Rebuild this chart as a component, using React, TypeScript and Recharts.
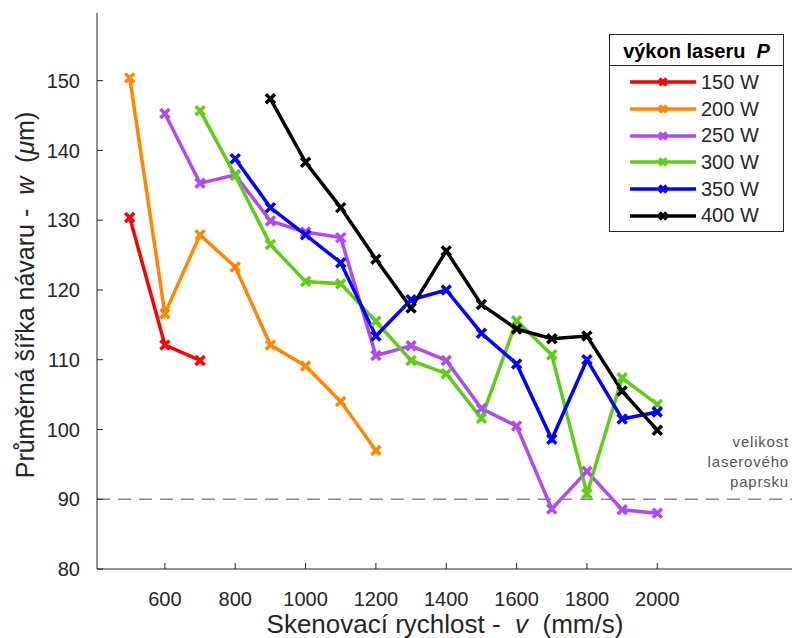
import React from 'react';
import {
  LineChart,
  Line,
  XAxis,
  YAxis,
  Legend,
  ReferenceLine
} from 'recharts';

const FONT = "'Liberation Sans', Arial, Helvetica, sans-serif";
const AXIS_COLOR = '#262626';
const PLOT_LEFT = 97;
const PLOT_BOTTOM = 569;
const TICK_LEN = 6;

// scan speed v (mm/s)
const speeds = [500, 600, 700, 800, 900, 1000, 1100, 1200, 1300, 1400, 1500, 1600, 1700, 1800, 1900, 2000];

// mean track width w (µm) per laser power, null = not measured
const w150 = [130.4, 112.1, 109.9, null, null, null, null, null, null, null, null, null, null, null, null, null];
const w200 = [150.4, 116.6, 127.9, 123.3, 112.1, 109.1, 104, 97, null, null, null, null, null, null, null, null];
const w250 = [null, 145.3, 135.3, 136.5, 129.9, 128.3, 127.5, 110.6, 112, 109.9, 103, 100.5, 88.6, 94, 88.5, 88];
const w300 = [null, null, 145.7, 136.4, 126.5, 121.2, 120.9, 115.5, 109.9, 108, 101.6, 115.6, 110.7, 90.8, 107.4, 103.6];
const w350 = [null, null, null, 138.8, 131.8, 127.9, 123.9, 113.4, 118.6, 120, 113.8, 109.4, 98.6, 110, 101.5, 102.5];
const w400 = [null, null, null, null, 147.4, 138.3, 131.8, 124.4, 117.4, 125.6, 117.9, 114.4, 113, 113.4, 105.5, 99.9];

const xTicks = [600, 800, 1000, 1200, 1400, 1600, 1800, 2000];
const yTicks = [80, 90, 100, 110, 120, 130, 140, 150];
const beamSize = 90;

const series = [
  { key: 'p150', name: '150 W', color: '#FF0000', values: w150 },
  { key: 'p200', name: '200 W', color: '#FF8800', values: w200 },
  { key: 'p250', name: '250 W', color: '#B14AF5', values: w250 },
  { key: 'p300', name: '300 W', color: '#5FCC16', values: w300 },
  { key: 'p350', name: '350 W', color: '#0000FF', values: w350 },
  { key: 'p400', name: '400 W', color: '#000000', values: w400 }
];

const data = speeds.map((v, i) => {
  const row: Record<string, number | null> = { v };
  series.forEach((s) => {
    row[s.key] = s.values[i];
  });
  return row;
});

const crossPath = (cx: number, cy: number, r: number) =>
  `M${cx - r},${cy - r}L${cx + r},${cy + r}M${cx - r},${cy + r}L${cx + r},${cy - r}`;

const CrossDot = (props: any) => {
  const { cx, cy, stroke, index, dataKey, value } = props;
  const k = `${dataKey}-${index}`;
  if (cx == null || cy == null || value == null) return <g key={k} />;
  return <path key={k} d={crossPath(cx, cy, 4.5)} stroke={stroke} strokeWidth={3.5} fill="none" />;
};

// ticks point inwards (MATLAB style), so the tick mark is drawn here
const XTick = (props: any) => {
  const { x, payload } = props;
  return (
    <g>
      <line x1={x} y1={PLOT_BOTTOM} x2={x} y2={PLOT_BOTTOM - TICK_LEN} stroke={AXIS_COLOR} />
      <text x={x} y={606} textAnchor="middle" fill={AXIS_COLOR} fontSize={20} fontFamily={FONT}>
        {payload.value}
      </text>
    </g>
  );
};

const YTick = (props: any) => {
  const { y, payload } = props;
  return (
    <g>
      <line x1={PLOT_LEFT} y1={y} x2={PLOT_LEFT + TICK_LEN} y2={y} stroke={AXIS_COLOR} />
      <text x={80} y={y} dy="0.36em" textAnchor="end" fill={AXIS_COLOR} fontSize={20} fontFamily={FONT}>
        {payload.value}
      </text>
    </g>
  );
};

const PowerLegend = () => (
  <div
    style={{
      width: 175,
      height: 198,
      boxSizing: 'border-box',
      border: `1px solid ${AXIS_COLOR}`,
      background: '#fff',
      fontFamily: FONT,
      color: '#000'
    }}
  >
    <div
      style={{
        height: 30,
        borderBottom: `1px solid ${AXIS_COLOR}`,
        textAlign: 'center',
        fontWeight: 'bold',
        fontSize: 20,
        lineHeight: '32px',
        whiteSpace: 'pre'
      }}
    >
      {'výkon laseru  '}
      <i>P</i>
    </div>
    <div style={{ paddingTop: 3 }}>
      {series.map((s) => (
        <div key={s.key} style={{ height: 26.7, display: 'flex', alignItems: 'center' }}>
          <svg width={66} height={20} style={{ marginLeft: 20, display: 'block' }}>
            <line x1={0} y1={10} x2={66} y2={10} stroke={s.color} strokeWidth={3.5} />
            <path d={crossPath(33, 10, 3.5)} stroke={s.color} strokeWidth={3.5} fill="none" />
          </svg>
          <span style={{ fontSize: 20, marginLeft: 5, color: '#262626' }}>{s.name}</span>
        </div>
      ))}
    </div>
  </div>
);

export default function App() {
  return (
    <div style={{ position: 'absolute', left: 0, top: 0, background: '#fff' }}>
      <LineChart
        width={792}
        height={638}
        data={data}
        margin={{ top: 13, right: 0, bottom: 0, left: 0 }}
      >
        <XAxis
          dataKey="v"
          type="number"
          domain={[407, 2383]}
          ticks={xTicks}
          allowDataOverflow
          height={69}
          stroke={AXIS_COLOR}
          tickLine={false}
          tick={<XTick />}
          label={{
            content: () => (
              <text
                x={445}
                y={633}
                textAnchor="middle"
                fill={AXIS_COLOR}
                fontSize={26}
                fontFamily={FONT}
                style={{ whiteSpace: 'pre' }}
              >
                {'Skenovací rychlost -  '}
                <tspan fontStyle="italic">v</tspan>
                {'  (mm/s)'}
              </text>
            )
          }}
        />
        <YAxis
          type="number"
          domain={[80, 159.7]}
          ticks={yTicks}
          allowDataOverflow
          width={97}
          stroke={AXIS_COLOR}
          tickLine={false}
          tick={<YTick />}
          label={{
            content: () => (
              <text
                transform="translate(34,295) rotate(-90)"
                textAnchor="middle"
                fill={AXIS_COLOR}
                fontSize={25}
                fontFamily={FONT}
                style={{ whiteSpace: 'pre' }}
              >
                {'Průměrná šířka návaru -  '}
                <tspan fontStyle="italic">w</tspan>
                {'  ('}
                <tspan fontStyle="italic">μ</tspan>
                {'m)'}
              </text>
            )
          }}
        />
        <ReferenceLine
          y={beamSize}
          stroke="#888888"
          strokeWidth={1.5}
          strokeDasharray="13 8"
          label={{
            content: () => (
              <text
                textAnchor="end"
                fill="#555555"
                fontSize={15}
                fontFamily={FONT}
                letterSpacing={0.8}
              >
                <tspan x={789} y={447}>velikost</tspan>
                <tspan x={789} y={467}>laserového</tspan>
                <tspan x={789} y={487}>paprsku</tspan>
              </text>
            )
          }}
        />
        {series.map((s) => (
          <Line
            key={s.key}
            name={s.name}
            dataKey={s.key}
            type="linear"
            stroke={s.color}
            strokeWidth={3.5}
            dot={<CrossDot />}
            activeDot={false}
            isAnimationActive={false}
          />
        ))}
        <Legend
          layout="vertical"
          align="center"
          verticalAlign="middle"
          wrapperStyle={{ left: 609, top: 34, width: 175, height: 198 }}
          content={() => <PowerLegend />}
        />
      </LineChart>
    </div>
  );
}
